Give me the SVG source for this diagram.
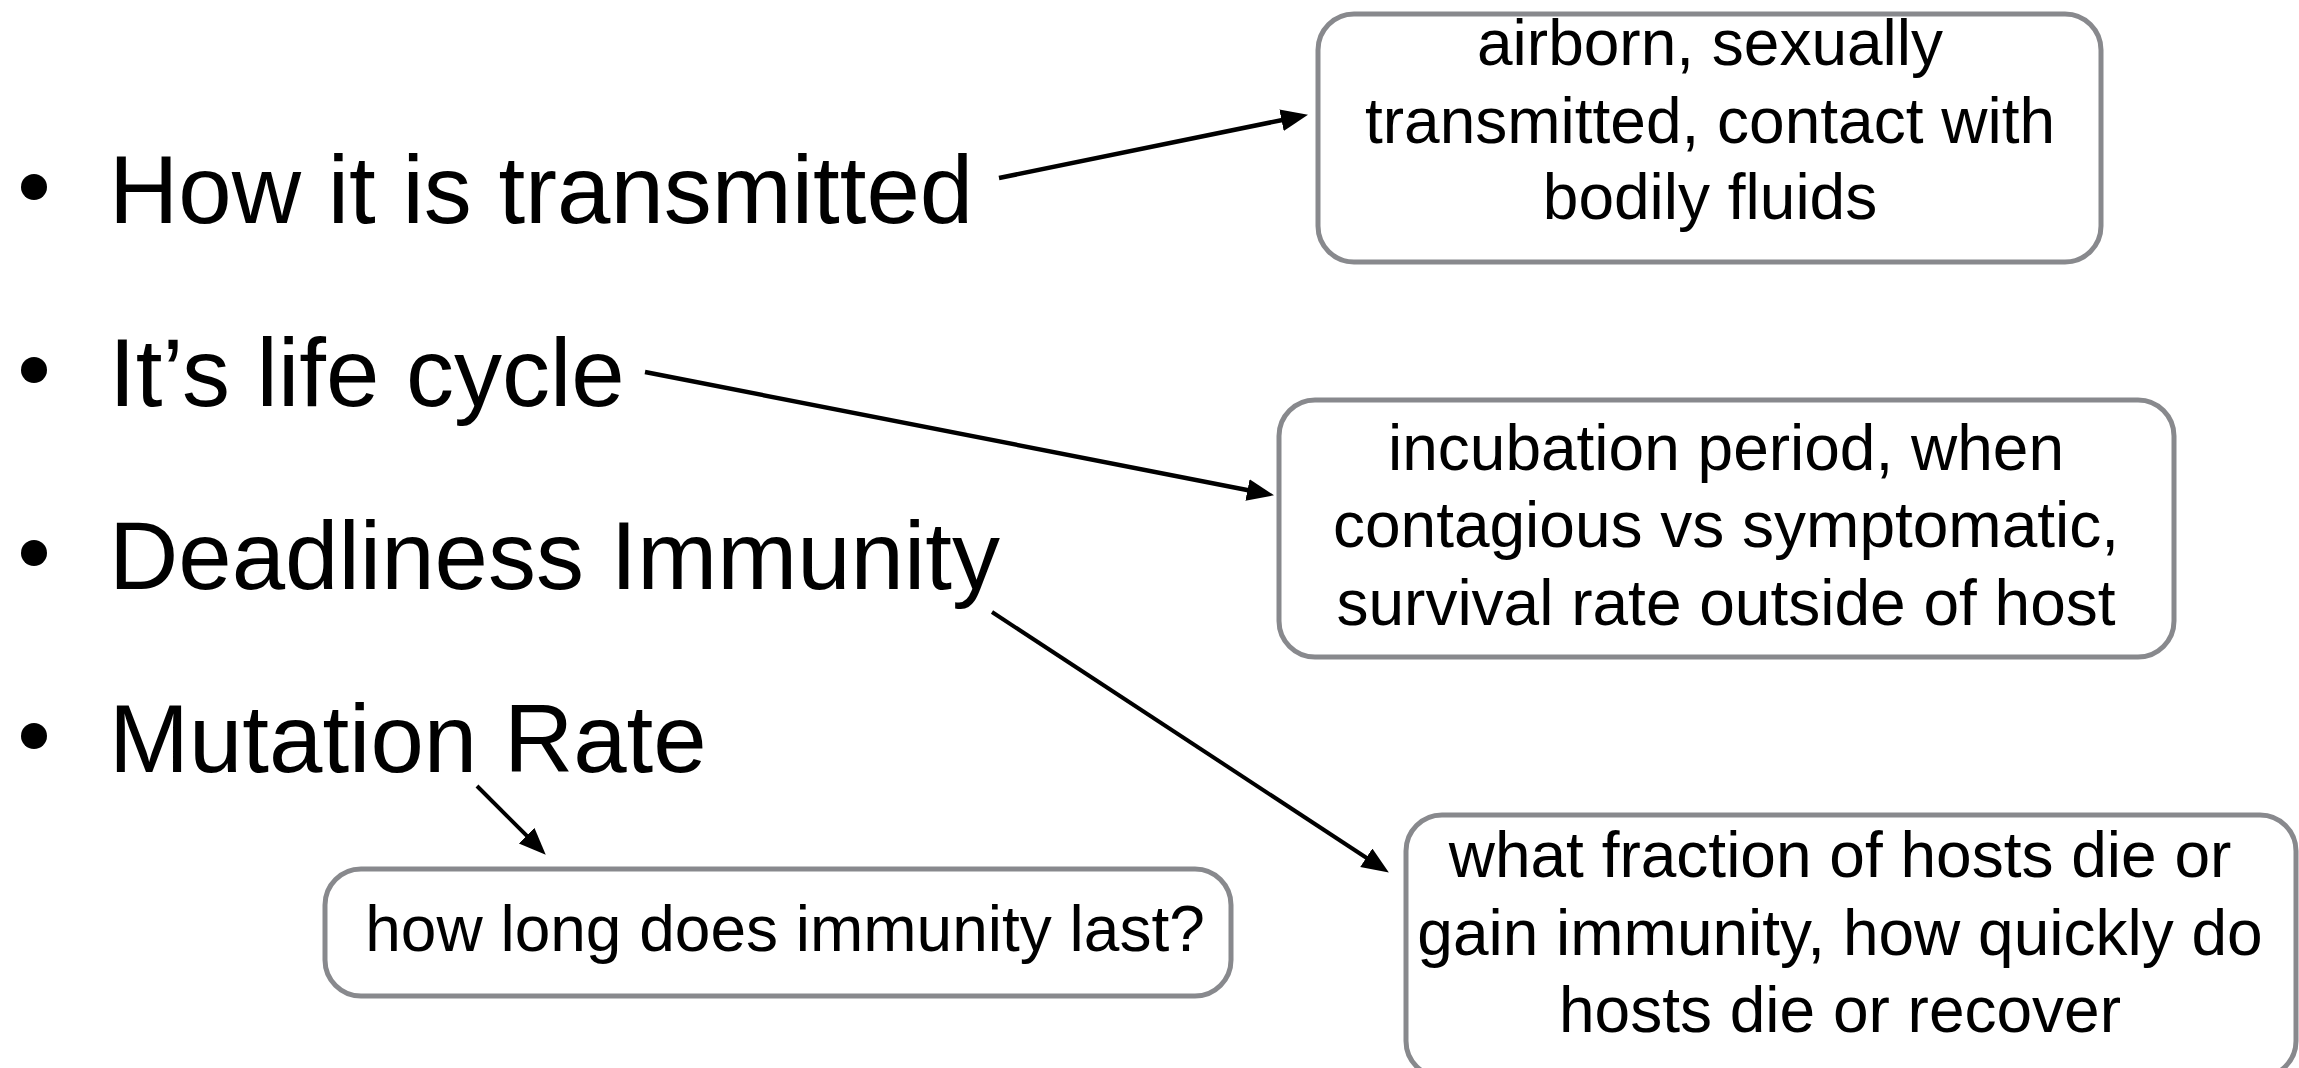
<svg xmlns="http://www.w3.org/2000/svg" width="2299" height="1068" viewBox="0 0 2299 1068">
  <defs>
    <style>
      .bullet-text { font-family: "Liberation Sans", Arial, sans-serif; font-size: 96px; fill: #000; }
      .bullet-dot { fill: #000; }
      .box { fill: #fff; stroke: #88898d; stroke-width: 5; }
      .box-text { font-family: "Liberation Sans", Arial, sans-serif; font-size: 64px; fill: #000; text-anchor: middle; }
      .conn { fill: none; stroke: #000; }
      .thick { stroke-width: 4.5; }
      .thin { stroke-width: 4; }
    </style>
    <marker id="head" markerUnits="userSpaceOnUse" markerWidth="28" markerHeight="24" refX="6" refY="11" orient="auto">
      <path d="M0,0 L27,11 L0,22 z" fill="#000"/>
    </marker>
  </defs>

  <rect width="2299" height="1068" fill="#fff"/>

  <!-- bullet list -->
  <g id="item-transmitted">
    <circle class="bullet-dot" cx="34" cy="187" r="13"/>
    <text class="bullet-text" x="109" y="223">How it is transmitted</text>
  </g>
  <g id="item-life-cycle">
    <circle class="bullet-dot" cx="34" cy="370" r="13"/>
    <text class="bullet-text" x="109" y="406">It’s life cycle</text>
  </g>
  <g id="item-deadliness">
    <circle class="bullet-dot" cx="34" cy="553" r="13"/>
    <text class="bullet-text" x="109" y="589">Deadliness Immunity</text>
  </g>
  <g id="item-mutation">
    <circle class="bullet-dot" cx="34" cy="736" r="13"/>
    <text class="bullet-text" x="109" y="772">Mutation Rate</text>
  </g>

  <!-- note boxes -->
  <g id="note-transmission">
    <rect class="box" x="1318" y="14" width="783" height="248" rx="36"/>
    <text class="box-text" x="1710" y="65">airborn, sexually</text>
    <text class="box-text" x="1710" y="143">transmitted, contact with</text>
    <text class="box-text" x="1710" y="219">bodily fluids</text>
  </g>
  <g id="note-life-cycle">
    <rect class="box" x="1279" y="400" width="895" height="257" rx="36"/>
    <text class="box-text" x="1726" y="470">incubation period, when</text>
    <text class="box-text" x="1726" y="547">contagious vs symptomatic,</text>
    <text class="box-text" x="1726" y="625">survival rate outside of host</text>
  </g>
  <g id="note-deadliness">
    <rect class="box" x="1406" y="815" width="890" height="262" rx="36"/>
    <text class="box-text" x="1840" y="877">what fraction of hosts die or</text>
    <text class="box-text" x="1840" y="955">gain immunity, how quickly do</text>
    <text class="box-text" x="1840" y="1032">hosts die or recover</text>
  </g>
  <g id="note-immunity">
    <rect class="box" x="325" y="869" width="906" height="127" rx="36"/>
    <text class="box-text" x="785" y="951">how long does immunity last?</text>
  </g>

  <!-- connectors -->
  <g id="connectors">
    <line class="conn thick" x1="999" y1="178" x2="1287.4" y2="119" marker-end="url(#head)"/>
    <line class="conn thick" x1="645" y1="372" x2="1253.4" y2="491.2" marker-end="url(#head)"/>
    <line class="conn thin" x1="992" y1="612" x2="1371.3" y2="861" marker-end="url(#head)"/>
    <line class="conn thin" x1="477" y1="786" x2="530.9" y2="839.9" marker-end="url(#head)"/>
  </g>
</svg>
